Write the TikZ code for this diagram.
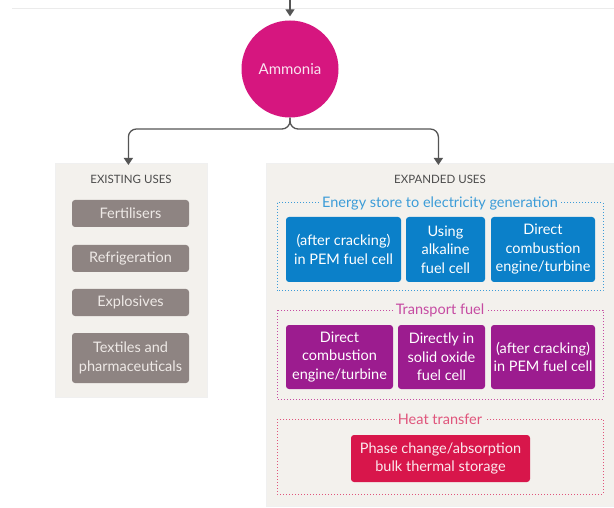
\documentclass[tikz,border=0pt]{standalone}
\usepackage{fontspec}
\setmainfont{Lato}
\usetikzlibrary{arrows.meta}
\definecolor{amm}{HTML}{D6167F}
\definecolor{panelbg}{HTML}{F3F1ED}
\definecolor{greybox}{HTML}{8E8482}
\definecolor{greytext}{HTML}{EEE9E6}
\definecolor{bluebox}{HTML}{0B80C9}
\definecolor{bluelab}{HTML}{3C9CD8}
\definecolor{purplebox}{HTML}{9C1C8F}
\definecolor{purplelab}{HTML}{C64BA2}
\definecolor{redbox}{HTML}{D8164B}
\definecolor{redlab}{HTML}{E0557C}
\definecolor{linegrey}{HTML}{555555}
\tikzset{
  panel/.style={fill=panelbg, draw=black!6, line width=0.8pt, anchor=north west},
  heading/.style={font=\fontsize{11.5}{13}\selectfont, text=black!70},
  greyitem/.style={fill=greybox, rounded corners=3pt, text=greytext, align=center,
    minimum width=117pt, font=\fontsize{14.5}{19}\selectfont, inner sep=0pt},
  coloritem/.style={rounded corners=3pt, text=white, align=center, inner sep=0pt,
    font=\fontsize{14.5}{18.5}\selectfont},
  group/.style={draw, dotted, line width=1pt},
  grouplab/.style={fill=panelbg, inner xsep=3pt, inner ysep=1pt, font=\fontsize{14.5}{17}\selectfont},
  arr/.style={draw=linegrey, line width=1.3pt, -{Triangle[length=7pt,width=9pt]}, color=linegrey},
}
\begin{document}
\begin{tikzpicture}[x=1pt,y=-1pt]
\useasboundingbox[fill=white] (0,0) rectangle (614,508);
% faint top rule
\draw[black!8, line width=0.8pt] (12,8) -- (614,8);
% circle
\node[circle, fill=amm, minimum size=97pt, text=white!88!amm, font=\fontsize{15}{17}\selectfont] (ammonia) at (290,69) {Ammonia};
\coordinate (topin) at (290,-1);
\draw[arr] (topin) -- ([yshift=4pt]ammonia.north);
% panels
\node[panel, minimum width=152pt, minimum height=234pt] (left) at (55,163) {};
\node[panel, minimum width=352pt, minimum height=343pt] (right) at (266,163) {};
\node[heading] (lefth) at (131,179) {EXISTING USES};
\node[heading] (righth) at (440,179) {EXPANDED USES};
% connectors
\coordinate (junc) at (290,129);
\draw[arr, rounded corners=8pt] (ammonia.south) -- (junc) -| ([xshift=-3pt,yshift=-2pt]left.north);
\draw[arr, rounded corners=8pt] (ammonia.south) -- (junc) -| ([xshift=-4pt,yshift=-2pt]right.north);
% existing uses
\node[greyitem, minimum height=27pt] (fert) at (130.5,213.5) {Fertilisers};
\node[greyitem, minimum height=27pt] (refr) at (130.5,258.5) {Refrigeration};
\node[greyitem, minimum height=27pt] (expl) at (130.5,302.5) {Explosives};
\node[greyitem, minimum height=50pt] (text) at (130.5,358) {Textiles and\\pharmaceuticals};
% energy group
\draw[group, draw=bluelab] (277,203) rectangle (603,291);
\node[grouplab, text=bluelab] (energyl) at (440,203) {Energy store to electricity generation};
\node[coloritem, fill=bluebox, minimum width=115pt, minimum height=65pt] (e1) at (343.5,249.5) {(after cracking)\\in PEM fuel cell};
\node[coloritem, fill=bluebox, minimum width=79pt, minimum height=65pt] (e2) at (445.5,249.5) {Using\\alkaline\\fuel cell};
\node[coloritem, fill=bluebox, minimum width=104pt, minimum height=65pt] (e3) at (543,249.5) {Direct\\combustion\\engine/turbine};
% transport group
\draw[group, draw=purplelab] (277,310) rectangle (603,399);
\node[grouplab, text=purplelab] (transl) at (440,310) {Transport fuel};
\node[coloritem, fill=purplebox, minimum width=107pt, minimum height=64pt] (t1) at (339.5,357) {Direct\\combustion\\engine/turbine};
\node[coloritem, fill=purplebox, minimum width=87pt, minimum height=64pt] (t2) at (441.5,357) {Directly in\\solid oxide\\fuel cell};
\node[coloritem, fill=purplebox, minimum width=104pt, minimum height=64pt] (t3) at (543,357) {(after cracking)\\in PEM fuel cell};
% heat group
\draw[group, draw=redlab] (277,419) rectangle (603,494);
\node[grouplab, text=redlab] (heatl) at (440,419) {Heat transfer};
\node[coloritem, fill=redbox, minimum width=179pt, minimum height=47pt, text=white!90!redbox] (h1) at (440.5,458.5) {Phase change/absorption\\bulk thermal storage};
\end{tikzpicture}
\end{document}
